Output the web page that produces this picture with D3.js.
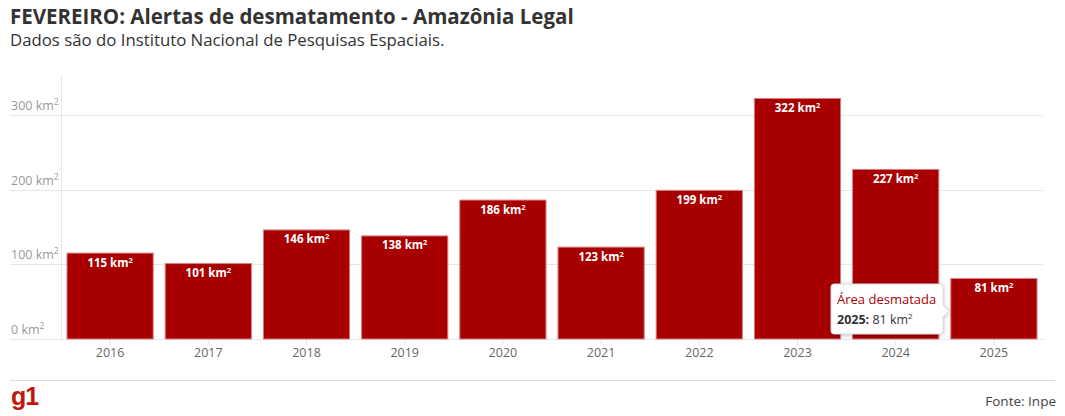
<!DOCTYPE html>
<html><head><meta charset="utf-8">
<script src="https://cdn.jsdelivr.net/npm/d3@7"></script>
<style>
body{margin:0;background:#fff;font-family:"Open Sans",sans-serif;}
</style></head><body>
<svg id="c" width="1065" height="416"></svg>
<script>
const years = ["2016","2017","2018","2019","2020","2021","2022","2023","2024","2025"];
const values = [115,101,146,138,186,123,199,322,227,81];
const yTicks = [0,100,200,300];

const svg = d3.select("#c");
const m={left:61,right:1043,top:75,bottom:339};

svg.append("text").attr("x",10).attr("y",24).attr("font-size",20.5).attr("font-weight",700).attr("fill","#333")
  .text("FEVEREIRO: Alertas de desmatamento - Amazônia Legal");
svg.append("text").attr("x",10).attr("y",46).attr("font-size",16.8).attr("fill","#333")
  .text("Dados são do Instituto Nacional de Pesquisas Espaciais.");

const x=d3.scaleBand().domain(years).range([m.left,m.right]).paddingInner(0.122).paddingOuter(0.061);
const y=d3.scaleLinear().domain([0,100]).range([m.bottom,m.bottom-74.7]);

const g=svg.append("g");
g.selectAll("line.grid").data(yTicks).join("line")
  .attr("x1",10).attr("x2",m.right).attr("y1",d=>Math.round(y(d))+0.5).attr("y2",d=>Math.round(y(d))+0.5)
  .attr("stroke","#e6e6e6");
g.append("line").attr("x1",m.left+0.5).attr("x2",m.left+0.5).attr("y1",m.top).attr("y2",m.bottom).attr("stroke","#e6e6e6");
const yl=g.selectAll("text.yl").data(yTicks).join("text")
  .attr("x",11).attr("y",d=>y(d)-5).attr("font-size",12.5).attr("fill","#999");
yl.append("tspan").text(d=>d+" km");
yl.append("tspan").attr("font-size",8.5).attr("dy",-5).text("2");

const xa=svg.append("g").attr("transform",`translate(0,${m.bottom})`).call(d3.axisBottom(x).tickSize(6).tickSizeOuter(0));
xa.select(".domain").attr("stroke","#e6e6e6");
xa.selectAll(".tick line").attr("stroke","#e6e6e6");
xa.selectAll(".tick text").attr("font-family","Open Sans").attr("font-size",12.5).attr("fill","#666").attr("dy","0.75em");

svg.selectAll("rect.bar").data(values).join("rect")
  .attr("x",(d,i)=>x(years[i])).attr("width",x.bandwidth())
  .attr("y",d=>y(d)).attr("height",d=>y(0)-y(d))
  .attr("fill","#a80000").attr("stroke","#d88080").attr("stroke-width",1);
const bl=svg.selectAll("text.bl").data(values).join("text")
  .attr("x",(d,i)=>x(years[i])+x.bandwidth()/2).attr("y",d=>y(d)+13.5)
  .attr("text-anchor","middle").attr("font-size",11.5).attr("font-weight",700).attr("fill","#fff");
bl.append("tspan").text(d=>d+" km");
bl.append("tspan").attr("font-size",7.5).attr("dy",-4).text("2");

const tx=831, ty=284, tw=112, th=50;
const tg=svg.append("g");
tg.append("path").attr("d",`M${tx+3},${ty} h${tw-6} q3,0 3,3 v18 l6,6 l-6,6 v14 q0,3 -3,3 h${-(tw-6)} q-3,0 -3,-3 v${-(th-6)} q0,-3 3,-3 z`)
  .attr("fill","#fff").attr("stroke","#ddd").attr("stroke-width",1)
  .style("filter","drop-shadow(0 1px 2px rgba(0,0,0,0.25))");
tg.append("text").attr("x",tx+6).attr("y",ty+20).attr("font-size",13).attr("fill","#a80000").text("Área desmatada");
const t2=tg.append("text").attr("x",tx+6).attr("y",ty+40).attr("font-size",12.5).attr("fill","#333");
t2.append("tspan").attr("font-weight",700).text(years[9]+":");
t2.append("tspan").text(" "+values[9]+" km");
t2.append("tspan").attr("font-size",8).attr("dy",-5).text("2");

svg.append("line").attr("x1",10).attr("x2",1055).attr("y1",380.5).attr("y2",380.5).attr("stroke","#ddd");
svg.append("text").attr("x",11).attr("y",405).attr("font-family","Liberation Sans Narrow,Liberation Sans").attr("font-size",25).attr("font-weight",700).attr("fill","#c4170c").attr("letter-spacing",-1).text("g1");
svg.append("text").attr("x",1056).attr("y",406).attr("text-anchor","end").attr("font-size",13.5).attr("fill","#444")
  .attr("font-family","Liberation Sans Narrow,Open Sans").text("Fonte: Inpe");
</script></body></html>
